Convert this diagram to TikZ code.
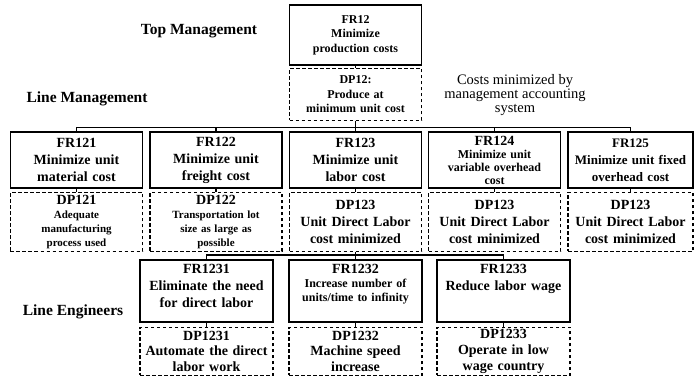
\documentclass[tikz,border=0pt]{standalone}
\usepackage{fontspec}
\setmainfont{Liberation Serif}
\usetikzlibrary{positioning}
\newcommand{\topfont}{\fontsize{12bp}{14.5bp}\selectfont}
\newcommand{\frfont}{\fontsize{14bp}{17bp}\selectfont}
\newcommand{\frsmall}{\fontsize{12bp}{13bp}\selectfont}
\newcommand{\dpsmall}{\fontsize{11bp}{14bp}\selectfont}
\newcommand{\lblfont}{\fontsize{15.5bp}{18bp}\selectfont}

\begin{document}
\begin{tikzpicture}[x=1bp, y=-1bp, node distance=3bp,
	frbox/.style={draw, line width=1.4bp, inner sep=1bp, align=center, text width=130bp, font=\bfseries\frfont},
	dpbox/.style={frbox, dash pattern=on 3.5bp off 2.5bp},
	link/.style={line width=1.4bp},
	level/.style={font=\bfseries\lblfont}]

		\useasboundingbox (0,0) rectangle (694,377);

		% nodes - top management %
		\node[frbox, minimum height=60bp, font=\bfseries\topfont] (fr12) at (355.5,35) {FR12\\Minimize\\production costs};
		\node[dpbox, below=2bp of fr12, minimum height=52bp, font=\bfseries\topfont] (dp12) {DP12:\\Produce at\\minimum unit cost};

		% nodes - line management %
		\node[frbox, minimum height=56bp] (fr121) at (76.5,160) {FR121\\Minimize unit\\material cost};
		\node[frbox, minimum height=56bp] (fr122) at (216,160) {FR122\\Minimize unit\\freight cost};
		\node[frbox, minimum height=56bp] (fr123) at (355.5,160) {FR123\\Minimize unit\\labor cost};
		\node[frbox, minimum height=56bp, font=\bfseries\frsmall] (fr124) at (494.5,160) {{\frfont FR124}\\Minimize unit\\variable overhead\\cost};
		\node[frbox, minimum height=56bp, text width=123bp, font=\bfseries\fontsize{13bp}{17bp}\selectfont] (fr125) at (630.5,160) {FR125\\Minimize unit fixed\\overhead cost};

		\node[dpbox, below=of fr121, minimum height=59bp, font=\bfseries\dpsmall] (dp121) {{\frfont DP121}\\Adequate\\manufacturing\\process used};
		\node[dpbox, below=of fr122, minimum height=59bp, font=\bfseries\dpsmall] (dp122) {{\frfont DP122}\\Transportation lot\\size as large as\\possible};
		\node[dpbox, below=of fr123, minimum height=59bp] (dp123) {DP123\\Unit Direct Labor\\cost minimized};
		\node[dpbox, below=of fr124, minimum height=59bp] (dp124) {DP123\\Unit Direct Labor\\cost minimized};
		\node[dpbox, below=of fr125, minimum height=59bp, text width=123bp] (dp125) {DP123\\Unit Direct Labor\\cost minimized};

		% nodes - line engineers %
		\node[frbox, minimum height=62bp, text width=131bp, text height=9.5bp, text depth=45.5bp] (fr1231) at (206.5,291) {FR1231\\Eliminate the need\\for direct labor};
		\node[frbox, minimum height=62bp, text width=131bp, text height=9.5bp, text depth=45.5bp, font=\bfseries\fontsize{12bp}{14bp}\selectfont] (fr1232) at (355.5,291) {{\frfont FR1232}\\Increase number of\\units/time to infinity};
		\node[frbox, minimum height=62bp, text width=131bp, text height=9.5bp, text depth=45.5bp] (fr1233) at (503.5,291) {FR1233\\Reduce labor wage};

		\node[dpbox, below=4bp of fr1231, minimum height=48bp, text width=131bp, font=\bfseries\fontsize{14bp}{15.5bp}\selectfont] (dp1231) {DP1231\\Automate the direct\\labor work};
		\node[dpbox, below=4bp of fr1232, minimum height=48bp, text width=131bp, font=\bfseries\fontsize{14bp}{15.5bp}\selectfont] (dp1232) {DP1232\\Machine speed\\increase};
		\node[dpbox, below=4bp of fr1233, minimum height=48bp, text width=131bp, font=\bfseries\fontsize{14bp}{15.5bp}\selectfont] (dp1233) {DP1233\\Operate in low\\wage country};

		% level labels %
		\node[level] (topmgmt) at (199,31) {Top Management};
		\node[level] (linemgmt) at (87,99) {Line Management};
		\node[level] (lineeng) at (73,312) {Line Engineers};
		\node[align=center, font=\fontsize{14.5bp}{14bp}\selectfont] (costs) at (515,95) {Costs minimized by\\management accounting\\system};

		% bus points %
		\coordinate (bus1) at (355.5,127.5);
		\coordinate (bus2) at (355.5,255);

		% edges %
		\draw[link] (fr12) -- (dp12);
		\draw[link] (dp12) -- (bus1) -| (fr121);
		\draw[link] (bus1) -| (fr122);
		\draw[link] (bus1) -- (fr123);
		\draw[link] (bus1) -| (fr124);
		\draw[link] (bus1) -| (fr125);

		\draw[link] (fr121) -- (dp121);
		\draw[link] (fr122) -- (dp122);
		\draw[link] (fr123) -- (dp123);
		\draw[link] (fr124) -- (dp124);
		\draw[link] (fr125) -- (dp125);

		\draw[link] (dp123) -- (bus2) -| (fr1231);
		\draw[link] (bus2) -- (fr1232);
		\draw[link] (bus2) -| (fr1233);

		\draw[link] (fr1231) -- (dp1231);
		\draw[link] (fr1232) -- (dp1232);
		\draw[link] (fr1233) -- (dp1233);

\end{tikzpicture}
\end{document}
